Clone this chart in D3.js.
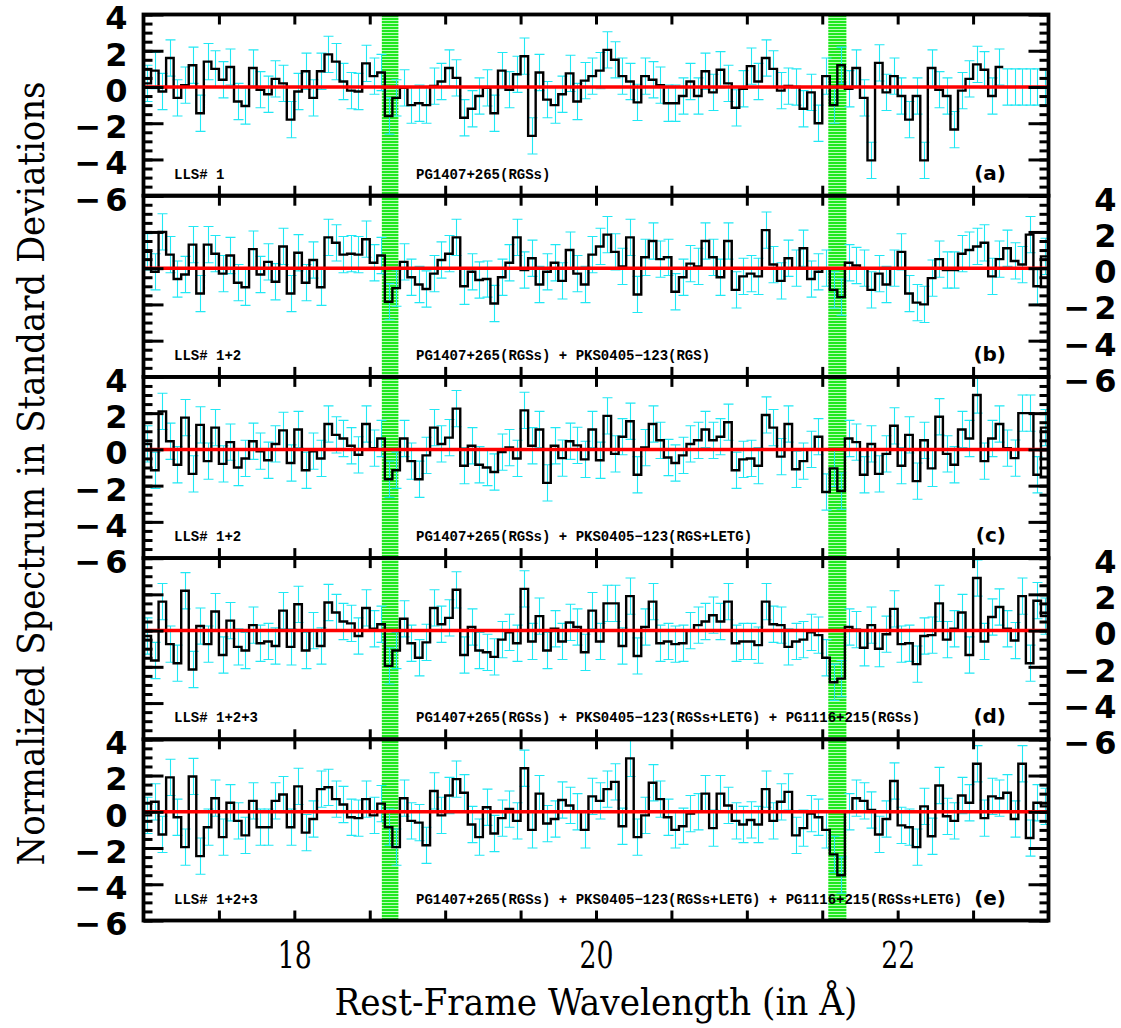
<!DOCTYPE html>
<html>
<head>
<meta charset="utf-8">
<script src="https://cdn.jsdelivr.net/npm/d3@7"></script>
<style>
  html, body { margin: 0; padding: 0; background: #fff; }
  svg { display: block; }
</style>
</head>
<body>
<svg id="chart" width="1121" height="1028"></svg>
<script>
// Wavelength grid of the stacked spectra (Angstrom)
const lambdaMin = 17.0;
const lambdaMax = 23.0;
const binWidth = 0.05;

// Normalized residuals (in sigma) per 0.05 A bin, one array per stack
const stackA = [0.2, 0.9, -0.25, 1.6, -0.6, 0.1, 1.2, -1.45, 1.4, 1.0,
  0.4, 1.1, -0.8, -1.05, 1.05, -0.15, -0.4, 0.45, 0.2, -1.8,
  -0.25, 0.87, -0.6, 0.87, 1.8, 1.4, 0.3, -0.2, -0.25, 1.3,
  0.6, 0.8, -1.6, -0.6, -0.05, -1.0, -0.9, -1.0, 0.05, 0.3,
  1.05, 0.5, -1.7, -1.2, -0.5, -0.05, -1.45,
  0.9, -0.15, 0.7, 1.7, -2.7, 0.8, -0.7, -1.0, -0.4, 0.75,
  -0.8, 0.35, 0.6, 0.9, 2.05, 1.5, 0.6, 0.3, -0.85, 0.6,
  0.4, 0.1, -0.9, -0.9, -0.5, 0.3, -0.5, 0.87, -0.3, 0.95,
  0.2, -1.15, -0.1, 1.15, 0.3, 1.6, 1.0, -0.2, 0.05, 0.0,
  -1.2, -0.3, -2.0, 0.6, -1.0, 1.2, -0.1, 1.05, -0.6, -4.05,
  1.33, -0.3, 0.6, -0.5, -1.8, -0.5, -4.05, 1.05, -0.15, -0.5,
  -2.35, -0.2, 0.45, 1.25, 0.95, -0.5, 1.1,
  null, null, null, null, null, null];

const stackB = [0.9, -0.2, 2.0, 0.75, -0.6, -0.35, 1.3, -1.4, 1.3, 0.8,
  -0.3, 0.7, -0.8, -1.05, 1.05, -0.35, 0.35, -0.75, 1.2, -1.4,
  0.85, -0.8, 0.45, -1.05, 1.7, 1.4, 0.75, 0.8, 0.75, 1.6,
  0.3, 0.7, -1.85, -1.1, 0.35, -0.5, -0.9, -1.15, -0.3, 0.45,
  0.8, 1.7, -1.0, -0.2, -0.65, -0.6, -1.95,
  -0.5, 0.3, 1.7, -0.1, 0.55, -0.9, -0.2, 0.3, -0.7, 1.0,
  -0.3, -0.9, 0.75, 1.2, 1.85, 0.9, 0.1, 1.7, -1.45, 0.6,
  1.5, 0.5, 0.6, -1.3, -0.5, 0.25, 0.1, 1.5, 0.6, -0.5,
  1.5, -1.2, -0.45, -0.3, -0.45, 2.1, 0.2, -0.7, 0.55, 0.0,
  1.1, -0.6, -0.2, 0.0, -1.2, -1.6, 0.3, 0.15, 0.0, -1.2,
  -0.3, -0.9, 0.0, 0.9, -1.4, -1.9, -2.0, -0.55, 0.5, -0.1,
  -0.1, 0.8, 1.0, 1.2, 1.4, -0.45, 0.5, 1.1, 0.4, 0.2,
  1.85, -1.0, 0.65];

const stackC = [0.3, -1.15, 2.1, 0.45, -0.85, 1.75, -1.35, 1.35, -0.65, 1.2,
  -0.8, 0.4, -1.0, -0.5, 0.45, -0.1, -0.6, 0.3, 1.05, -0.75,
  1.1, -1.15, -0.1, -0.5, 1.4, 0.8, 0.6, 0.2, -0.3, 1.4,
  0.07, 0.6, -1.65, -1.15, 0.6, -0.65, -1.65, -0.33, 1.2, 0.3,
  0.65, 2.25, -0.9, 0.2, -0.85, -1.0, -1.25, -0.15, 0.1, -0.5,
  2.15, 0.2, 1.1, -1.85, 0.2, -0.48, 0.45, 0.22, -0.55, 1.1,
  -0.6, 1.85, -0.25, 0.7, 1.55, -1.4, 0.1, 1.4, 0.5, -0.45,
  -0.75, -0.33, 0.3, 0.5, 1.1, 0.5, 0.7, 1.5, -1.15, -0.55,
  -0.5, -0.9, 1.9, 1.2, -0.4, 1.4, -1.1, -0.65, 0.0, 0.7,
  -2.35, -1.05, -2.3, 0.6, 0.4, -1.4, 0.3, -1.35, -0.25, 1.3,
  -0.9, 0.8, -1.75, 0.5, -1.05, 1.8, -0.25, -0.85, 1.1, 0.6,
  3.0, -0.65, 0.6, 1.4, 0.07, -0.48, 2.0, 2.0, -1.4, 1.2];

const stackD = [-0.3, -1.65, 1.6, -0.75, -1.8, 2.2, -2.15, 0.25, -0.75, 1.05,
  -1.35, 0.55, -0.9, -1.1, 0.3, -0.7, -0.6, -0.85, 1.1, -0.9,
  1.45, -1.1, 0.0, -0.85, 1.55, 1.0, 0.5, 0.4, -0.3, 1.25,
  0.1, 0.35, -1.95, -1.1, 0.65, -0.7, -1.5, -0.65, 1.25, 0.35,
  0.7, 2.25, -1.35, 0.2, -1.1, -1.2, -1.45, -0.5, -0.1, -0.7,
  2.3, -0.6, 0.8, -1.1, 0.1, -0.6, 0.45, 0.2, -1.2, 1.1,
  -0.6, 1.5, 1.5, -0.85, 1.9, -1.4, 0.2, 1.6, -0.7, -0.6,
  -0.75, -0.7, 0.0, 0.3, 0.5, 0.85, 0.5, 1.6, -0.7, -0.6,
  -0.6, -0.8, 1.6, 0.35, 0.3, -0.9, -0.6, -0.5, -0.1, -0.25,
  -1.5, -2.85, -2.65, 0.2, 0.05, -0.95, 0.3, -1.0, -0.2, 1.2,
  -0.75, -0.7, -1.85, -0.3, -0.25, 1.5, -0.5, 0.1, 1.0, -1.35,
  2.9, -0.6, 0.75, 1.3, 0.1, -0.55, 1.9, -1.8, 1.65, 0.8];

const stackE = [-0.2, 0.55, -1.25, 1.9, -0.3, -1.95, 1.95, -2.45, -0.85, 0.75,
  -1.4, 0.5, -0.5, -1.3, 0.6, -0.85, -0.85, 0.6, 0.95, -0.85,
  1.4, -1.15, -0.4, 1.25, 1.35, 0.7, 0.4, -0.3, -0.35, 0.7,
  -0.2, 0.45, -0.85, -1.95, 0.75, -0.5, -0.6, -1.85, 1.15, -0.2,
  0.9, 1.8, 1.05, -0.7, -1.4, 0.25, -1.2,
  -0.35, 0.15, -0.5, 2.4, -1.0, 1.0, -0.65, -0.4, 0.65, 0.35,
  0.0, -1.0, 0.85, 0.6, 1.25, 1.65, -0.8, 2.95, -1.4, -0.2,
  1.6, 0.7, -0.3, -1.0, -0.8, -0.1, 0.0, 1.0, -0.9, 1.0,
  0.35, -0.5, -0.7, -0.45, -0.7, 1.25, -0.5, 0.55, 1.1, -1.3,
  -0.9, -0.1, -0.3, -1.0, -2.35, -3.5, 0.0, 0.75, 0.6, 0.1,
  -1.25, -0.4, 1.7, -0.75, -0.85, -1.95, 0.3, -1.35, 1.45, -0.25,
  -0.5, 0.9, 0.5, 2.65, -0.35, 0.85, 0.75, 1.05, -0.4, 2.65,
  -1.45, 0.5, 0.3];

const stacks = [stackA, stackB, stackC, stackD, stackE];

// Panel annotations
const panelTags = ["(a)", "(b)", "(c)", "(d)", "(e)"];
const systemLabels = ["LLS# 1", "LLS# 1+2", "LLS# 1+2", "LLS# 1+2+3", "LLS# 1+2+3"];
const sourceLabels = [
  "PG1407+265(RGSs)",
  "PG1407+265(RGSs) + PKS0405\u2212123(RGS)",
  "PG1407+265(RGSs) + PKS0405\u2212123(RGS+LETG)",
  "PG1407+265(RGSs) + PKS0405\u2212123(RGSs+LETG) + PG1116+215(RGSs)",
  "PG1407+265(RGSs) + PKS0405\u2212123(RGSs+LETG) + PG1116+215(RGSs+LETG)"
];

// O VIII / O VII search windows (Angstrom)
const bandLo = [18.58, 21.54];
const bandHi = [18.69, 21.66];

// Axis ticks
const yTickValues = [4, 2, 0, -2, -4, -6];
const xLabelValues = [18, 20, 22];

// ---------------------------------------------------------------
const svg = d3.select("#chart");
const W = 1121, H = 1028;
svg.append("rect").attr("width", W).attr("height", H).attr("fill", "#fff");

const plotLeft = 143.5, plotRight = 1048.5;
const plotTop = 14.5, panelH = 181.2;
const nPanels = stacks.length;
const plotBottom = plotTop + nPanels * panelH;

const x = d3.scaleLinear().domain([lambdaMin, lambdaMax]).range([plotLeft, plotRight]);
const yScales = stacks.map((_, p) =>
  d3.scaleLinear().domain([-6, 4]).range([plotTop + (p + 1) * panelH, plotTop + p * panelH]));

// Striped fill for the line windows
const defs = svg.append("defs");
const pat = defs.append("pattern").attr("id", "bandStripes")
  .attr("patternUnits", "userSpaceOnUse").attr("width", 8).attr("height", 3);
pat.append("rect").attr("width", 8).attr("height", 3).attr("fill", "#b8ffb8");
pat.append("rect").attr("width", 8).attr("height", 2).attr("fill", "#1fe81f");

stacks.forEach((_, p) => {
  const y = yScales[p];
  defs.append("clipPath").attr("id", "clip" + p).append("rect")
    .attr("x", plotLeft).attr("y", y(4)).attr("width", plotRight - plotLeft).attr("height", y(-6) - y(4));
});

// Line windows across all panels
svg.append("g").selectAll("rect").data(d3.zip(bandLo, bandHi)).join("rect")
  .attr("x", d => x(d[0])).attr("width", d => x(d[1]) - x(d[0]))
  .attr("y", plotTop).attr("height", plotBottom - plotTop)
  .attr("fill", "url(#bandStripes)");

const errColor = "#20e8f4";
const capHalf = 5;

stacks.forEach((vals, p) => {
  const y = yScales[p];
  const g = svg.append("g").attr("clip-path", `url(#clip${p})`);
  const bins = vals.map((v, i) => ({
    lo: lambdaMin + i * binWidth,
    hi: lambdaMin + (i + 1) * binWidth,
    mid: lambdaMin + (i + 0.5) * binWidth,
    v: v
  }));

  // 1-sigma error bars (missing bins sit at the zero level)
  const eb = g.append("g").attr("stroke", errColor).attr("stroke-width", 1.1).attr("fill", "none");
  bins.forEach(b => {
    const c = b.v === null ? 0 : b.v;
    const xm = Math.round(x(b.mid)) + 0.5;
    eb.append("path").attr("d",
      `M${xm},${y(c - 1)}V${y(c + 1)}` +
      `M${xm - capHalf},${y(c + 1)}H${xm + capHalf}` +
      `M${xm - capHalf},${y(c - 1)}H${xm + capHalf}`);
  });

  // Step histogram
  let d = "";
  let open = false;
  bins.forEach(b => {
    if (b.v === null) { open = false; return; }
    if (!open) { d += `M${x(b.lo)},${y(b.v)}`; open = true; }
    else { d += `V${y(b.v)}`; }
    d += `H${x(b.hi)}`;
  });
  g.append("path").attr("d", d).attr("fill", "none").attr("stroke", "#000")
    .attr("stroke-width", 2.4).attr("stroke-linejoin", "miter");

  // Zero level
  g.append("line").attr("x1", plotLeft).attr("x2", plotRight)
    .attr("y1", y(0)).attr("y2", y(0)).attr("stroke", "#ff0000").attr("stroke-width", 3.5);
});

// Frames, ticks, labels
const minorY = d3.range(-6, 4.01, 0.5);
const majorY = yTickValues;
const xTickVals = d3.range(17.5, 23, 0.5);

stacks.forEach((_, p) => {
  const y = yScales[p];
  const g = svg.append("g");

  const yl = g.append("g").attr("transform", `translate(${plotLeft},0)`);
  yl.call(d3.axisRight(y).tickValues(minorY).tickSize(9).tickFormat(""));
  yl.append("g").call(d3.axisRight(y).tickValues(majorY).tickSize(20).tickFormat(""));

  const yr = g.append("g").attr("transform", `translate(${plotRight},0)`);
  yr.call(d3.axisLeft(y).tickValues(minorY).tickSize(9).tickFormat(""));
  yr.append("g").call(d3.axisLeft(y).tickValues(majorY).tickSize(20).tickFormat(""));

  const xt = g.append("g").attr("transform", `translate(0,${y(4)})`);
  xt.call(d3.axisBottom(x).tickValues(xTickVals).tickSize(10).tickFormat(""));
  const xb = g.append("g").attr("transform", `translate(0,${y(-6)})`);
  xb.call(d3.axisTop(x).tickValues(xTickVals).tickSize(10).tickFormat(""));

  g.selectAll(".domain").remove();
  g.selectAll(".tick line").attr("stroke", "#000").attr("stroke-width", 3);

  // Tick labels alternate sides; all right-justified
  const leftSide = p % 2 === 0;
  const lab = g.append("g").attr("transform", `translate(${leftSide ? plotLeft : plotRight},0)`);
  lab.call((leftSide ? d3.axisLeft(y) : d3.axisRight(y)).tickValues(majorY).tickSize(0)
    .tickPadding(leftSide ? 16 : 68).tickFormat(""));
  lab.select(".domain").remove();
  lab.selectAll(".tick text")
    .attr("text-anchor", "end")
    .attr("font-family", "DejaVu Sans").attr("font-weight", "bold")
    .attr("font-size", 32).attr("fill", "#000").attr("dy", "0.45em")
    .each(function(dv) {
      const t = d3.select(this);
      if (dv < 0) {
        t.append("tspan").text("\u2212");
        t.append("tspan").attr("dx", 4).text(String(Math.abs(dv)));
      } else {
        t.text(String(dv));
      }
    });

  // Annotations
  const base = y(-6) - 17;
  g.append("text").attr("x", 174).attr("y", base).text(systemLabels[p])
    .attr("font-family", "Liberation Mono").attr("font-weight", "bold").attr("font-size", 14);
  g.append("text").attr("x", 416).attr("y", base).text(sourceLabels[p])
    .attr("font-family", "Liberation Mono").attr("font-weight", "bold").attr("font-size", 14);
  g.append("text").attr("x", 1006).attr("y", base + 1).attr("text-anchor", "end").text(panelTags[p])
    .attr("font-family", "DejaVu Sans").attr("font-weight", "bold").attr("font-size", 20);

  // Panel frame
  g.append("rect").attr("x", plotLeft).attr("y", y(4)).attr("width", plotRight - plotLeft)
    .attr("height", y(-6) - y(4)).attr("fill", "none").attr("stroke", "#000").attr("stroke-width", 3.8);
});

// Wavelength labels under the bottom panel
const xl = svg.append("g").attr("transform", `translate(0,${plotBottom})`);
xl.call(d3.axisBottom(x).tickValues(xLabelValues).tickSize(0).tickPadding(21).tickFormat(d3.format("d")));
xl.select(".domain").remove();
xl.selectAll("text").attr("font-family", "DejaVu Serif Condensed, DejaVu Serif").attr("font-size", 37)
  .attr("fill", "#000").attr("textLength", 34).attr("lengthAdjust", "spacingAndGlyphs");

// Axis titles
svg.append("text").attr("x", (plotLeft + plotRight) / 2).attr("y", 1015)
  .attr("text-anchor", "middle").attr("font-family", "DejaVu Serif Condensed, DejaVu Serif").attr("font-size", 37)
  .attr("textLength", 523).attr("lengthAdjust", "spacingAndGlyphs")
  .text("Rest-Frame Wavelength (in \u00C5)");

svg.append("text").attr("transform", `translate(44,${(plotTop + plotBottom) / 2 + 6}) rotate(-90)`)
  .attr("text-anchor", "middle").attr("font-family", "DejaVu Serif Condensed, DejaVu Serif").attr("font-size", 37)
  .attr("textLength", 784).attr("lengthAdjust", "spacingAndGlyphs")
  .text("Normalized Spectrum in Standard Deviations");
</script>
</body>
</html>
